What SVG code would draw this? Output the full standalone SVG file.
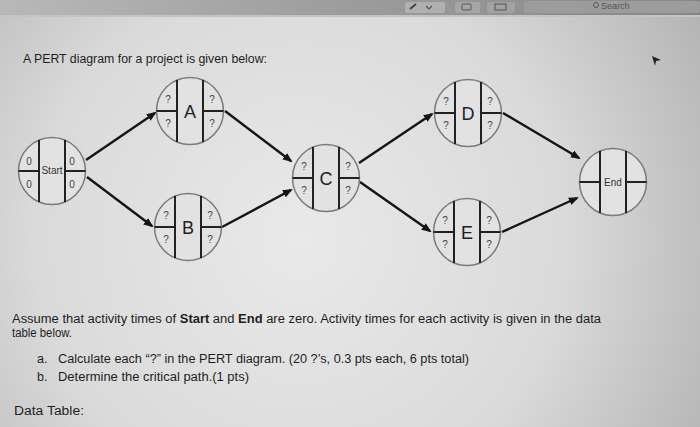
<svg xmlns="http://www.w3.org/2000/svg" width="700" height="427" viewBox="0 0 700 427">
<defs>
<radialGradient id="bg" cx="300" cy="240" r="480" gradientUnits="userSpaceOnUse">
<stop offset="0" stop-color="#e9e9e9"/>
<stop offset="0.55" stop-color="#dadada"/>
<stop offset="1" stop-color="#b0b0b0"/>
</radialGradient>
<linearGradient id="bar" x1="0" y1="0" x2="1" y2="0">
<stop offset="0" stop-color="#b8b8b8"/>
<stop offset="0.5" stop-color="#9c9c9c"/>
<stop offset="1" stop-color="#868686"/>
</linearGradient>
<marker id="ah" markerWidth="10" markerHeight="8" refX="8" refY="4" orient="auto" markerUnits="userSpaceOnUse">
<path d="M0,0 L10,4 L0,8 Z" fill="#151515"/>
</marker>
<g id="frame">
<circle r="33.5" fill="#e2e2e2" stroke="#7a7a7a" stroke-width="1.5"/>
<g stroke="#222" stroke-width="2">
<line x1="-13" y1="-30.9" x2="-13" y2="30.9"/>
<line x1="13" y1="-30.9" x2="13" y2="30.9"/>
<line x1="-33.5" y1="0" x2="-13" y2="0"/>
<line x1="13" y1="0" x2="33.5" y2="0"/>
</g>
</g>
</defs>
<style>
.q{font-family:"Liberation Sans",Arial,sans-serif;font-size:10px;fill:#444;text-anchor:middle}
.big{font-family:"Liberation Sans",Arial,sans-serif;font-size:18px;fill:#222;text-anchor:middle}
.lbl{font-family:"Liberation Sans",Arial,sans-serif;font-size:10px;fill:#333;text-anchor:middle}
.body{font-family:"Liberation Sans",Arial,sans-serif;font-size:12.5px;fill:#1e1e1e}
.conn line{stroke:#151515;stroke-width:2.4;marker-end:url(#ah)}
</style>
<rect width="700" height="427" fill="url(#bg)"/>
<g id="toolbar">
<rect x="0" y="0" width="700" height="15" fill="url(#bar)"/>
<rect x="0" y="15" width="700" height="2" fill="#c4c4c4"/>
<rect x="405" y="2" width="40" height="11" rx="2" fill="#b0b0b0"/>
<rect x="455" y="2" width="25" height="11" rx="2" fill="#a6a6a6"/>
<rect x="487" y="2" width="28" height="11" rx="2" fill="#a2a2a2"/>
<rect x="524" y="1" width="176" height="12" rx="3" fill="#9c9c9c"/>
<rect x="495" y="4" width="11" height="6" fill="none" stroke="#555" stroke-width="1"/>
<rect x="462" y="4" width="9" height="6" rx="1" fill="none" stroke="#555" stroke-width="1"/>
<path d="M410,9 L416,4" stroke="#444" stroke-width="2"/>
<path d="M426,6 L429,9 L432,6" fill="none" stroke="#555" stroke-width="1.2"/>
<circle cx="596" cy="5" r="2.5" fill="none" stroke="#555" stroke-width="1"/>
<text x="601" y="9" font-family="Liberation Sans,Arial,sans-serif" font-size="9" fill="#555">Search</text>
</g>
<path d="M652,56 L661,60 L656,61 L655,66 Z" fill="#222"/>
<text class="body" x="23" y="63" textLength="244" lengthAdjust="spacingAndGlyphs">A PERT diagram for a project is given below:</text>
<g class="conn">
<line x1="86" y1="160" x2="155" y2="113"/>
<line x1="87" y1="177" x2="152" y2="226"/>
<line x1="225" y1="111" x2="291" y2="161"/>
<line x1="222" y1="227" x2="291" y2="190"/>
<line x1="359" y1="163" x2="432" y2="114"/>
<line x1="360" y1="182" x2="430" y2="231"/>
<line x1="503" y1="113" x2="579" y2="158"/>
<line x1="502" y1="232" x2="577" y2="198"/>
</g>
<g id="start" transform="translate(52,171)">
<use href="#frame"/>
<text class="q" x="-23" y="-6" font-size="11">0</text>
<text class="q" x="-23" y="17" font-size="11">0</text>
<text class="q" x="20" y="-6" font-size="11">0</text>
<text class="q" x="20" y="17" font-size="11">0</text>
<text class="lbl" x="0" y="3">Start</text>
</g>
<g id="A" transform="translate(190,111)">
<use href="#frame"/>
<text class="q" x="-22" y="-8">?</text><text class="q" x="-22" y="16">?</text>
<text class="q" x="22" y="-8">?</text><text class="q" x="22" y="16">?</text>
<text class="big" x="0" y="7">A</text>
</g>
<g id="B" transform="translate(188,227)">
<use href="#frame"/>
<text class="q" x="-22" y="-8">?</text><text class="q" x="-22" y="16">?</text>
<text class="q" x="22" y="-8">?</text><text class="q" x="22" y="16">?</text>
<text class="big" x="0" y="7">B</text>
</g>
<g id="C" transform="translate(326,178)">
<use href="#frame"/>
<text class="q" x="-22" y="-8">?</text><text class="q" x="-22" y="16">?</text>
<text class="q" x="22" y="-8">?</text><text class="q" x="22" y="16">?</text>
<text class="big" x="0" y="7">C</text>
</g>
<g id="D" transform="translate(468,113)">
<use href="#frame"/>
<text class="q" x="-22" y="-8">?</text><text class="q" x="-22" y="16">?</text>
<text class="q" x="22" y="-8">?</text><text class="q" x="22" y="16">?</text>
<text class="big" x="0" y="7">D</text>
</g>
<g id="E" transform="translate(467,232)">
<use href="#frame"/>
<text class="q" x="-22" y="-8">?</text><text class="q" x="-22" y="16">?</text>
<text class="q" x="22" y="-8">?</text><text class="q" x="22" y="16">?</text>
<text class="big" x="0" y="7">E</text>
</g>
<g id="End" transform="translate(613,182)">
<use href="#frame"/>
<text class="lbl" x="0" y="4" font-size="11">End</text>
</g>
<text class="body" x="12" y="323" textLength="589" lengthAdjust="spacingAndGlyphs">Assume that activity times of <tspan font-weight="bold">Start</tspan> and <tspan font-weight="bold">End</tspan> are zero. Activity times for each activity is given in the data</text>
<text class="body" x="12" y="337" textLength="60" lengthAdjust="spacingAndGlyphs">table below.</text>
<text class="body" x="37" y="363">a.</text>
<text class="body" x="58" y="363" textLength="411" lengthAdjust="spacingAndGlyphs">Calculate each “?” in the PERT diagram. (20 ?’s, 0.3 pts each, 6 pts total)</text>
<text class="body" x="37" y="381">b.</text>
<text class="body" x="58" y="381" textLength="191" lengthAdjust="spacingAndGlyphs">Determine the critical path.(1 pts)</text>
<text class="body" x="14" y="415" textLength="70" lengthAdjust="spacingAndGlyphs">Data Table:</text>
</svg>
